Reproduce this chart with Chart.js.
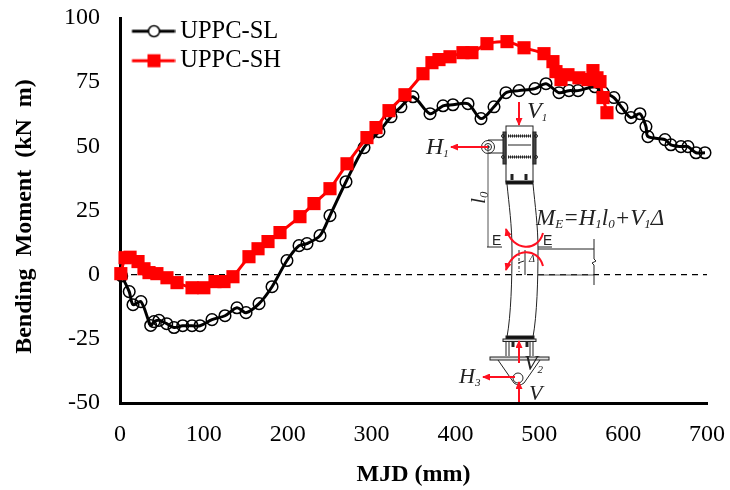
<!DOCTYPE html>
<html>
<head>
<meta charset="utf-8">
<script src="https://cdn.jsdelivr.net/npm/chart.js@4"></script>
<style>
  html, body { margin: 0; padding: 0; background: #fff; }
  #wrap { position: relative; width: 730px; height: 490px; }
  #chart { position: absolute; left: 0; top: 0; }
  #inset { position: absolute; left: 0; top: 0; pointer-events: none; }
  #inset text { font-family: "Liberation Serif", serif; font-style: italic; fill: #222; }
</style>
</head>
<body>
<div id="wrap">
  <canvas id="chart" width="730" height="490"></canvas>
  <!-- specimen sketch sitting on top of the plot -->
  <svg id="inset" width="730" height="490" viewBox="0 0 730 490">
    <defs>
      <marker id="head" markerWidth="8" markerHeight="7" refX="7" refY="3.5" orient="auto" markerUnits="userSpaceOnUse">
        <path d="M0 0 L8 3.5 L0 7 Z" fill="#ff1020"/>
      </marker>
    </defs>
    <g fill="none" stroke="#222" stroke-width="1">
      <!-- top fitting -->
      <rect x="506" y="126" width="27" height="56"/>
      <rect x="503" y="132" width="3" height="32" fill="#444"/>
      <rect x="533" y="132" width="3" height="32" fill="#444"/>
      <path d="M508 136 H531 M508 145 H531 M508 157 H531" stroke-width="1"/>
      <path d="M508 136 H531 M508 157 H531" stroke-width="3" stroke-dasharray="1 1"/>
      <rect x="506" y="181" width="27" height="3" fill="#111"/>
      <path d="M512 174 V180 M526 174 V180" stroke-width="3"/>
      <circle cx="503" cy="136" r="1.5"/><circle cx="536" cy="136" r="1.5"/>
      <circle cx="503" cy="157" r="1.5"/><circle cx="536" cy="157" r="1.5"/>
      <!-- pin at the top -->
      <circle cx="488" cy="147" r="6.5"/>
      <circle cx="488" cy="147" r="3.5"/>
      <circle cx="488" cy="147" r="1.2" fill="#222"/>
      <path d="M488 140 H503 M488 153 H503"/>
      <path d="M488 147 V247" stroke="#555"/>
      <!-- column -->
      <path d="M507 184 C509 205 512 225 512 250 C512 280 511 315 507 337"/>
      <path d="M533 184 C535 205 538 225 538 250 C538 280 537 315 533 337"/>
      <!-- E-E section -->
      <path d="M487 247 H502 M538 247 H552"/>
      <path d="M538 249 H594 M594 239 V259 L596 261 L592 263 L594 265 V285"/>
      <path d="M538 275 H594" stroke="#555"/>
      <path d="M519 250 V275" stroke-dasharray="3 2 1 2"/>
      <path d="M525 250 V275"/>
      <path d="M518 263 L524 261" stroke-width="1"/>
      <!-- bottom fitting -->
      <rect x="506" y="336" width="28" height="3" fill="#111"/>
      <rect x="503" y="339" width="33" height="2.5" fill="#ddd"/>
      <path d="M506 341 V356 M509 341 V356 M530 341 V356 M533 341 V356"/>
      <path d="M513 341 V347 M527 341 V347" stroke-width="3"/>
      <rect x="490" y="357" width="59" height="3" fill="#ddd"/>
      <path d="M498 360 L514 383 Q519 387 524 383 L540 360"/>
      <circle cx="518" cy="378" r="5"/>
    </g>
    <text x="492" y="245" style="font-family:'Liberation Sans';font-style:normal;font-size:14px">E</text>
    <text x="543" y="245" style="font-family:'Liberation Sans';font-style:normal;font-size:14px">E</text>
    <g fill="none" stroke="#ff1020" stroke-width="2">
      <path d="M519 102 V125" marker-end="url(#head)"/>
      <path d="M488 147 H451" marker-end="url(#head)"/>
      <path d="M519 363 V341" marker-end="url(#head)"/>
      <path d="M515 377 H483" marker-end="url(#head)"/>
      <path d="M519 402 V382" marker-end="url(#head)"/>
      <path d="M543 233 C538 252 513 252 506 229" marker-end="url(#head)"/>
      <path d="M543 266 C538 247 513 247 506 270" marker-end="url(#head)"/>
    </g>
    <text x="527" y="118" font-size="24">V<tspan font-size="11" dy="3">1</tspan></text>
    <text x="426" y="154" font-size="24">H<tspan font-size="11" dy="3">1</tspan></text>
    <text transform="translate(485 204) rotate(-90)" font-size="22">l<tspan font-size="13" dy="3">0</tspan></text>
    <text x="536" y="225" font-size="23">M<tspan font-size="13" dy="3">E</tspan><tspan dy="-3">=H</tspan><tspan font-size="13" dy="3">1</tspan><tspan dy="-3">l</tspan><tspan font-size="13" dy="3">0</tspan><tspan dy="-3">+V</tspan><tspan font-size="13" dy="3">1</tspan><tspan dy="-3">Δ</tspan></text>
    <text x="529" y="262" font-size="10">Δ</text>
    <text x="524" y="370" font-size="22">V<tspan font-size="11" dy="3">2</tspan></text>
    <text x="459" y="383" font-size="22">H<tspan font-size="11" dy="3">3</tspan></text>
    <text x="529" y="400" font-size="22">V</text>
  </svg>
</div>
<script>
const slX = [2, 11, 15.5, 25, 36.6, 40.5, 46.5, 55.7, 64.4, 74.8, 85.9, 95.4, 109.7, 125.2, 139.5, 150.3, 165.8, 181.3, 199.1, 213.5, 223, 238.5, 250.4, 269.5, 291, 308.8, 323.2, 335, 349.4, 369.7, 385.2, 397, 415, 430.5, 446, 460.3, 475.8, 494.9, 508, 523.5, 535.4, 546.2, 566.4, 576, 589, 598.6, 609.3, 620, 627.2, 629.6, 649.9, 657, 669, 677.3, 686.9, 697.6];
const slY = [-0.5, -6.6, -11.7, -10.5, -19.8, -18.3, -17.8, -19.1, -20.6, -19.9, -19.9, -19.9, -17.5, -16, -12.9, -14.8, -11.3, -4.7, 5.5, 11.3, 12.1, 15.2, 23, 36.2, 49.5, 55.7, 61.5, 65.4, 69.3, 62.7, 65.8, 66.2, 66.6, 60.8, 65.4, 70.9, 71.7, 72.5, 74.4, 70.9, 71.7, 71.7, 73.2, 71, 69, 65, 61.2, 62.7, 57.7, 53.8, 52.6, 50.6, 49.9, 49.9, 47.5, 47.5];
const shX = [1, 6, 12, 21.5, 28.6, 34.6, 44, 56, 68, 85.9, 100, 113.3, 124, 134.7, 153.8, 164.6, 176.5, 190.8, 214.6, 231.3, 250.4, 270.7, 294.5, 305.3, 320.8, 339.8, 361.3, 372, 380.4, 393.5, 409, 419.7, 437.6, 461.5, 481.8, 505.6, 516.3, 519.9, 525.9, 534.2, 547.3, 558, 564, 568.8, 572.4, 576, 580.7];
const shY = [0.4, 6.6, 6.8, 5.1, 2.3, 0.8, 0.4, -1.2, -3.1, -5.1, -5.1, -2.7, -2.7, -0.8, 7, 10.1, 12.9, 16.4, 22.6, 27.7, 33.5, 43.2, 53.4, 57.3, 63.9, 70.1, 78.3, 82.6, 83.8, 84.9, 86.5, 86.5, 90, 90.8, 88.4, 86.1, 83, 79.1, 76, 77.9, 76.7, 76, 79.5, 76.7, 75.2, 69, 63.1];
const zeroX = [0, 700];
const zeroY = [0, 0];
const xRange = [0, 700];
const yRange = [-50, 100];
const names = ["UPPC-SL", "UPPC-SH"];

const serif = "'Liberation Serif', 'Times New Roman', serif";

function pairs(xs, ys) {
  return xs.map((x, i) => ({ x: x, y: ys[i] }));
}

// legend swatch: short line with the marker on it
function swatch(color, square) {
  const c = document.createElement("canvas");
  c.width = 58;
  c.height = 40;
  const g = c.getContext("2d");
  const midY = 20;
  g.strokeStyle = color;
  g.lineWidth = 3;
  g.beginPath();
  g.moveTo(14.5, midY);
  g.lineTo(57.5, midY);
  g.stroke();
  if (square) {
    g.fillStyle = color;
    g.fillRect(36.5 - 6.5, midY - 6.5, 13, 13);
  } else {
    g.fillStyle = "#fff";
    g.lineWidth = 1.5;
    g.beginPath();
    g.arc(36.5, midY, 5.5, 0, Math.PI * 2);
    g.fill();
    g.stroke();
  }
  return c;
}
const swatches = [swatch("#000000", false), swatch("#ff0000", true)];

new Chart(document.getElementById("chart").getContext("2d"), {
  type: "line",
  data: {
    datasets: [
      {
        label: "zero",
        data: pairs(zeroX, zeroY),
        borderColor: "#000",
        borderWidth: 1.3,
        borderDash: [6, 5],
        pointRadius: 0,
        order: 3,
      },
      {
        label: names[0],
        data: pairs(slX, slY),
        borderColor: "#000",
        borderWidth: 3,
        tension: 0.3,
        pointStyle: "circle",
        pointRadius: 5.8,
        pointBorderWidth: 1.5,
        pointBorderColor: "#000",
        pointBackgroundColor: "transparent",
        clip: false,
        order: 2,
      },
      {
        label: names[1],
        data: pairs(shX, shY),
        borderColor: "#ff0000",
        borderWidth: 3,
        tension: 0.2,
        pointStyle: "rect",
        pointRadius: 9.3,
        pointBorderWidth: 0,
        pointBackgroundColor: "#ff0000",
        clip: false,
        order: 1,
      },
    ],
  },
  options: {
    responsive: false,
    animation: false,
    layout: { padding: { left: 0, top: 18, right: 23, bottom: 0 } },
    scales: {
      x: {
        type: "linear",
        min: xRange[0],
        max: xRange[1],
        afterFit: (s) => { s.height = 87; s.paddingLeft = 0; s.paddingRight = 0; },
        grid: { display: false, drawTicks: true, tickLength: 7, tickWidth: 2, tickColor: "#000" },
        border: { display: true, color: "#000", width: 3 },
        ticks: { stepSize: 100, color: "#000", padding: 10, maxRotation: 0, font: { family: serif, size: 24 } },
        title: { display: true, text: "MJD (mm)", color: "#000", padding: { top: 4, bottom: 1 }, font: { family: serif, size: 24, weight: "bold" } },
      },
      y: {
        min: yRange[0],
        max: yRange[1],
        afterFit: (s) => { s.width = 120; s.paddingTop = 0; s.paddingBottom = 0; },
        grid: { display: false, drawTicks: true, tickLength: 7, tickWidth: 2, tickColor: "#000" },
        border: { display: true, color: "#000", width: 3 },
        ticks: { stepSize: 25, color: "#000", padding: 13, font: { family: serif, size: 24 } },
        // trailing spaces push the title down the axis, it is not centred in the reference
        title: { display: true, text: "Bending  Moment  (kN  m)  ", color: "#000", padding: { top: 10, bottom: 0 }, font: { family: serif, size: 24, weight: "bold" } },
      },
    },
    plugins: {
      tooltip: { enabled: false },
      legend: {
        position: "chartArea",
        align: "start",
        // empty title only pushes the rows down to where they sit in the reference
        title: { display: true, text: "", font: { size: 10 }, padding: { top: 0, bottom: 2 } },
        labels: {
          usePointStyle: true,
          pointStyleWidth: 43,
          padding: 5,
          color: "#000",
          font: { family: serif, size: 24.5 },
          generateLabels: () => names.map((n, i) => ({
            text: n,
            pointStyle: swatches[i],
            fontColor: "#000",
            datasetIndex: i + 1,
            lineWidth: 0,
            hidden: false,
          })),
        },
      },
    },
  },
});
</script>
</body>
</html>
